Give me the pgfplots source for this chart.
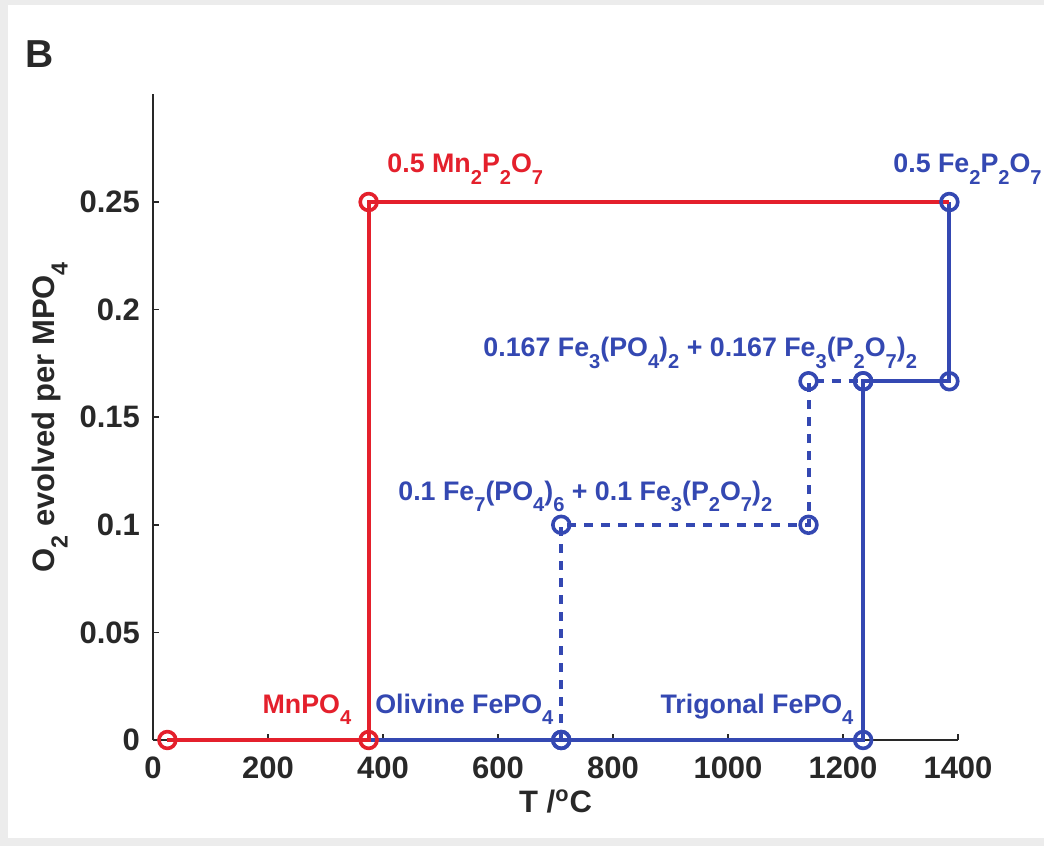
\documentclass[border=0pt]{standalone}
\usepackage{pgfplots}
\pgfplotsset{compat=1.18}
\usepackage{fontspec}
\setmainfont{Liberation Sans}

\definecolor{myred}{RGB}{228,32,44}
\definecolor{myblue}{RGB}{52,72,178}
\definecolor{axgray}{RGB}{40,40,40}

% lowered, smaller index as in the original figure
\newcommand\sub[1]{\raisebox{-0.8ex}{\scalebox{0.75}{#1}}}
\newcommand\annfont{\fontsize{13.4}{16}\selectfont\bfseries}

\begin{document}
\begin{tikzpicture}
% page with thin grey strip at the edges
\fill[gray!15] (-76.5pt,-53pt) rectangle (445.5pt,370pt);
\fill[white] (-72.5pt,-49pt) rectangle (445.5pt,367.5pt);

\node[anchor=base west, inner sep=0pt, font=\fontsize{19.5}{22}\selectfont\bfseries, text=axgray] at (-64pt,336pt) {B};

\begin{axis}[
    scale only axis,
    width=402.5pt, height=322.8pt,
    xmin=0, xmax=1400,
    ymin=0, ymax=0.3,
    axis lines*=left,
    axis line style={axgray, line width=1pt},
    xtick={0,200,400,600,800,1000,1200,1400},
    ytick={0,0.05,0.1,0.15,0.2,0.25},
    tick align=inside,
    major tick length=3pt,
    tick style={axgray, line width=0.8pt},
    ticklabel style={font=\fontsize{15.5}{18}\selectfont\bfseries, text=axgray},
    xticklabel style={yshift=-5pt},
    yticklabel style={xshift=-3pt, /pgf/number format/fixed, /pgf/number format/precision=2},
    /pgf/number format/assume math mode=true,
    /pgf/number format/1000 sep={},
    xlabel={T /\textsuperscript{o}C},
    ylabel={O\sub{2} evolved per MPO\sub{4}},
    label style={font=\fontsize{15.5}{18}\selectfont\bfseries, text=axgray},
    xlabel style={at={(axis description cs:0.5,-0.095)}, anchor=center},
    ylabel style={at={(axis description cs:-0.128,0.5)}, anchor=center},
    clip=false,
]

% dashed path via intermediate phases
\addplot[myblue, line width=2pt, dash pattern=on 4.5pt off 4pt,
    mark=o, mark size=4.2pt, mark options={solid, line width=1.8pt}]
    coordinates {(710,0)(710,0.1)(1140,0.1)(1140,0.1667)(1235,0.1667)};

\addplot[myblue, line width=2pt, mark=none]
    coordinates {(375,0)(1235,0)(1235,0.1667)(1385,0.1667)(1385,0.25)};

\addplot[myred, line width=2pt, mark=o, mark size=4.2pt,
    mark indices={1,2,3}, mark options={solid, line width=1.8pt}]
    coordinates {(25,0)(375,0)(375,0.25)(1385,0.25)};

\addplot[only marks, myblue, mark=o, mark size=4.2pt, mark options={line width=1.8pt}]
    coordinates {(710,0)(1235,0)(1235,0.1667)(1385,0.1667)(1385,0.25)};

\node[anchor=base west, inner sep=0pt, text=myred, font=\annfont] at (axis cs:407,0.2635) {0.5 Mn\sub{2}P\sub{2}O\sub{7}};
\node[anchor=base west, inner sep=0pt, text=myblue, font=\annfont] at (axis cs:1287,0.2635) {0.5 Fe\sub{2}P\sub{2}O\sub{7}};
\node[anchor=base west, inner sep=0pt, text=myblue, font=\annfont] at (axis cs:574,0.178) {0.167 Fe\sub{3}(PO\sub{4})\sub{2} + 0.167 Fe\sub{3}(P\sub{2}O\sub{7})\sub{2}};
\node[anchor=base west, inner sep=0pt, text=myblue, font=\annfont] at (axis cs:426,0.1115) {0.1 Fe\sub{7}(PO\sub{4})\sub{6} + 0.1 Fe\sub{3}(P\sub{2}O\sub{7})\sub{2}};
\node[anchor=base west, inner sep=0pt, text=myred, font=\annfont] at (axis cs:190,0.0125) {MnPO\sub{4}};
\node[anchor=base west, inner sep=0pt, text=myblue, font=\annfont] at (axis cs:386,0.0125) {Olivine FePO\sub{4}};
\node[anchor=base west, inner sep=0pt, text=myblue, font=\annfont] at (axis cs:882,0.0125) {Trigonal FePO\sub{4}};
\end{axis}

\pgfresetboundingbox
\useasboundingbox (-76.5pt,-53pt) rectangle (445.5pt,370pt);
\end{tikzpicture}
\end{document}
